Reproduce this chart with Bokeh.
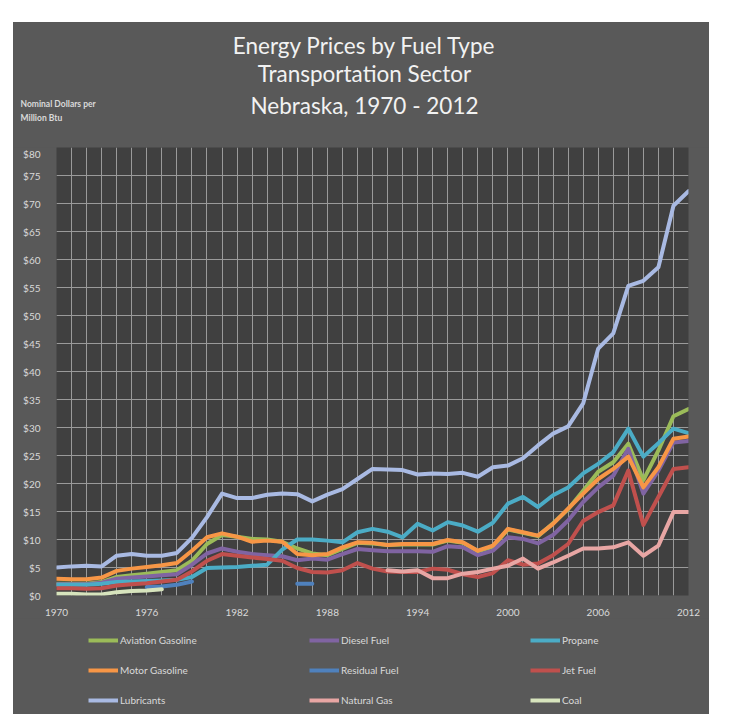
from bokeh.plotting import figure
from bokeh.layouts import column
from bokeh.models import ColumnDataSource, Legend, LegendItem, FixedTicker, NumeralTickFormatter, Range1d
from bokeh.core.properties import value
from bokeh.embed import file_html
from bokeh.resources import INLINE

nan = float("nan")
years = list(range(1970, 2013))

aviation_gasoline = [2.1, 2.1, 2.1, 2.4, 3.3, 3.6, 3.9, 4.2, 4.5, 6.2,
                     9.2, 10.8, 10.5, 10.1, 10.0, 9.6, 8.4, 7.5, 7.2, 8.3,
                     9.4, 9.3, 9.0, 9.1, 9.1, 9.1, 9.8, 9.4, 7.9, 8.7,
                     11.8, 11.2, 10.6, 12.9, 15.4, 18.7, 22.1, 23.8, 27.1, 20.6,
                     25.9, 32.0, 33.3]
diesel_fuel = [2.0, 2.0, 2.0, 2.3, 3.0, 3.2, 3.4, 3.6, 3.8, 5.5,
               7.5, 8.4, 7.8, 7.4, 7.2, 7.0, 6.3, 6.6, 6.4, 7.4,
               8.3, 8.1, 7.9, 7.9, 7.9, 7.8, 8.8, 8.6, 7.2, 8.0,
               10.4, 10.1, 9.3, 10.8, 13.4, 16.7, 19.3, 21.4, 26.2, 18.2,
               22.3, 27.3, 27.6]
propane = [1.9, 1.9, 1.9, 2.1, 2.4, 2.5, 2.6, 2.7, 2.8, 3.3,
           4.9, 5.0, 5.1, 5.3, 5.5, 8.2, 10.0, 10.0, 9.8, 9.5,
           11.3, 11.9, 11.4, 10.4, 12.8, 11.6, 13.1, 12.5, 11.4, 13.0,
           16.4, 17.6, 15.8, 17.9, 19.3, 21.8, 23.5, 25.6, 29.8, 24.8,
           27.2, 29.8, 29.0]
motor_gasoline = [3.0, 2.9, 2.9, 3.2, 4.4, 4.8, 5.1, 5.4, 5.8, 8.0,
                  10.4, 11.1, 10.5, 9.6, 9.8, 9.6, 7.4, 7.2, 7.4, 8.6,
                  9.5, 9.4, 9.0, 9.2, 9.2, 9.2, 9.9, 9.5, 8.0, 8.9,
                  11.9, 11.3, 10.7, 12.8, 15.5, 18.2, 20.8, 22.6, 24.8, 19.3,
                  22.9, 28.0, 28.4]
residual_fuel = [nan, nan, nan, nan, nan, nan, 1.5, 1.6, 1.9, 2.5,
                 nan, nan, nan, nan, nan, nan, 2.1, 2.1, nan, nan,
                 nan, nan, nan, nan, nan, nan, nan, nan, nan, nan,
                 nan, nan, nan, nan, nan, nan, nan, nan, nan, nan,
                 nan, nan, nan]
jet_fuel = [1.3, 1.3, 1.2, 1.3, 1.8, 2.0, 2.2, 2.5, 2.8, 4.3,
            6.2, 7.4, 7.1, 6.8, 6.5, 6.2, 4.9, 4.2, 4.1, 4.5,
            5.8, 4.8, 4.3, 4.2, 4.2, 4.8, 4.6, 3.8, 3.3, 4.0,
            6.3, 5.5, 5.7, 7.2, 9.2, 13.3, 14.9, 16.1, 22.3, 12.6,
            17.6, 22.6, 22.9]
lubricants = [5.0, 5.2, 5.3, 5.2, 7.1, 7.4, 7.1, 7.1, 7.6, 10.3,
              14.0, 18.2, 17.4, 17.4, 18.0, 18.2, 18.1, 16.8, 18.0, 19.0,
              20.8, 22.6, 22.5, 22.4, 21.6, 21.8, 21.7, 21.9, 21.2, 22.9,
              23.2, 24.5, 26.8, 28.9, 30.2, 34.3, 44.1, 46.8, 55.3, 56.2,
              58.6, 69.6, 72.2]
natural_gas = [nan] * 22 + [4.5, 4.3, 4.5, 3.1, 3.1, 3.9, 4.2, 4.8,
                            5.3, 6.6, 4.8, 5.9, 7.1, 8.4, 8.4, 8.6, 9.5, 7.1,
                            8.9, 14.9, 14.9]
coal = [0.3, 0.3, 0.2, 0.2, 0.6, 0.8, 0.9, 1.1] + [nan] * 35

series_names = ["Aviation Gasoline", "Diesel Fuel", "Propane", "Motor Gasoline",
                "Residual Fuel", "Jet Fuel", "Lubricants", "Natural Gas", "Coal"]
series_values = [aviation_gasoline, diesel_fuel, propane, motor_gasoline,
                 residual_fuel, jet_fuel, lubricants, natural_gas, coal]
series_colors = ["#9BBB59", "#8064A2", "#4BACC6", "#F79646",
                 "#4F81BD", "#C0504D", "#A9BAE3", "#E8A6A4", "#D7E4BD"]

x_tick_years = [1970, 1976, 1982, 1988, 1994, 2000, 2006, 2012]
y_ticks = list(range(0, 81, 5))

title_lines = ["Energy Prices by Fuel Type", "Transportation Sector", "Nebraska, 1970 - 2012"]
caption_lines = ["Nominal Dollars per", "Million Btu"]

FONT = "Lato"
TXT = "#D9D9D9"
PANEL = "#595959"


def bare(width, height):
    f = figure(width=width, height=height, x_range=Range1d(0, width), y_range=Range1d(height, 0),
               output_backend="svg", toolbar_location=None, title_location=None,
               x_axis_type=None, y_axis_type=None,
               min_border_left=0, min_border_right=0, min_border_top=0, min_border_bottom=0,
               background_fill_color=PANEL, border_fill_color=PANEL,
               outline_line_color=None)
    f.frame_align = False
    return f


# ---- header (titles) ----
hdr = bare(696, 125)
hdr.text(x=[351, 351, 351], y=[23, 51, 83], text=title_lines,
         text_align="center", text_baseline="middle",
         text_font=value(FONT), text_font_size=value("22.5px"), text_color="#F2F2F2")
hdr.text(x=[7, 7], y=[81, 95], text=caption_lines,
         text_align="left", text_baseline="middle",
         text_font=value(FONT), text_font_size=value("8.5px"),
         text_font_style="bold", text_color=TXT)

# ---- main chart ----
p = figure(frame_width=632, frame_height=448,
           x_range=(1970, 2012), y_range=(0, 80),
           output_backend="svg", toolbar_location=None, title_location=None,
           min_border_left=43, min_border_right=21,
           min_border_top=0, min_border_bottom=21,
           background_fill_color="#404040", border_fill_color=PANEL,
           outline_line_color=None)
p.frame_align = False

src = ColumnDataSource(dict(year=years, **{f"s{i}": v for i, v in enumerate(series_values)}))

for i, (name, color) in enumerate(zip(series_names, series_colors)):
    p.line("year", f"s{i}", source=src, line_color=color, line_width=4,
           line_join="round", line_cap="round")

p.xaxis.ticker = FixedTicker(ticks=x_tick_years)
p.xaxis.major_label_overrides = {y: str(y) for y in x_tick_years}
p.yaxis.ticker = FixedTicker(ticks=y_ticks)
p.yaxis.formatter = NumeralTickFormatter(format="$0")
for ax in (p.xaxis, p.yaxis):
    ax.axis_line_color = None
    ax.major_tick_line_color = None
    ax.minor_tick_line_color = None
    ax.major_label_text_color = TXT
    ax.major_label_text_font = FONT
    ax.major_label_text_font_size = "10px"
p.xaxis.major_label_standoff = 7
p.yaxis.major_label_standoff = 10

p.xgrid.ticker = FixedTicker(ticks=years)
p.ygrid.ticker = FixedTicker(ticks=y_ticks)
for g in (p.xgrid, p.ygrid):
    g.grid_line_color = "#9A9A9A"
    g.grid_line_width = 1

# ---- footer (legend) ----
ftr = bare(696, 96)
items = []
for name, color in zip(series_names, series_colors):
    r = ftr.line(x=[nan], y=[nan], line_color=color, line_width=4)
    items.append(LegendItem(label=name, renderers=[r]))
legend = Legend(items=items, orientation="horizontal", ncols=3,
                location=(75, 4), padding=0, margin=0, spacing=10,
                glyph_width=30, glyph_height=20, label_height=20,
                label_width=179, label_standoff=2,
                label_text_color=TXT, label_text_font=FONT,
                label_text_font_size="10px",
                background_fill_alpha=0, border_line_color=None)
ftr.add_layout(legend)

layout = column(hdr, p, ftr, spacing=0, margin=(22, 0, 0, 13),
                styles={"background-color": PANEL})
open("out.html", "w").write(file_html(layout, INLINE))
